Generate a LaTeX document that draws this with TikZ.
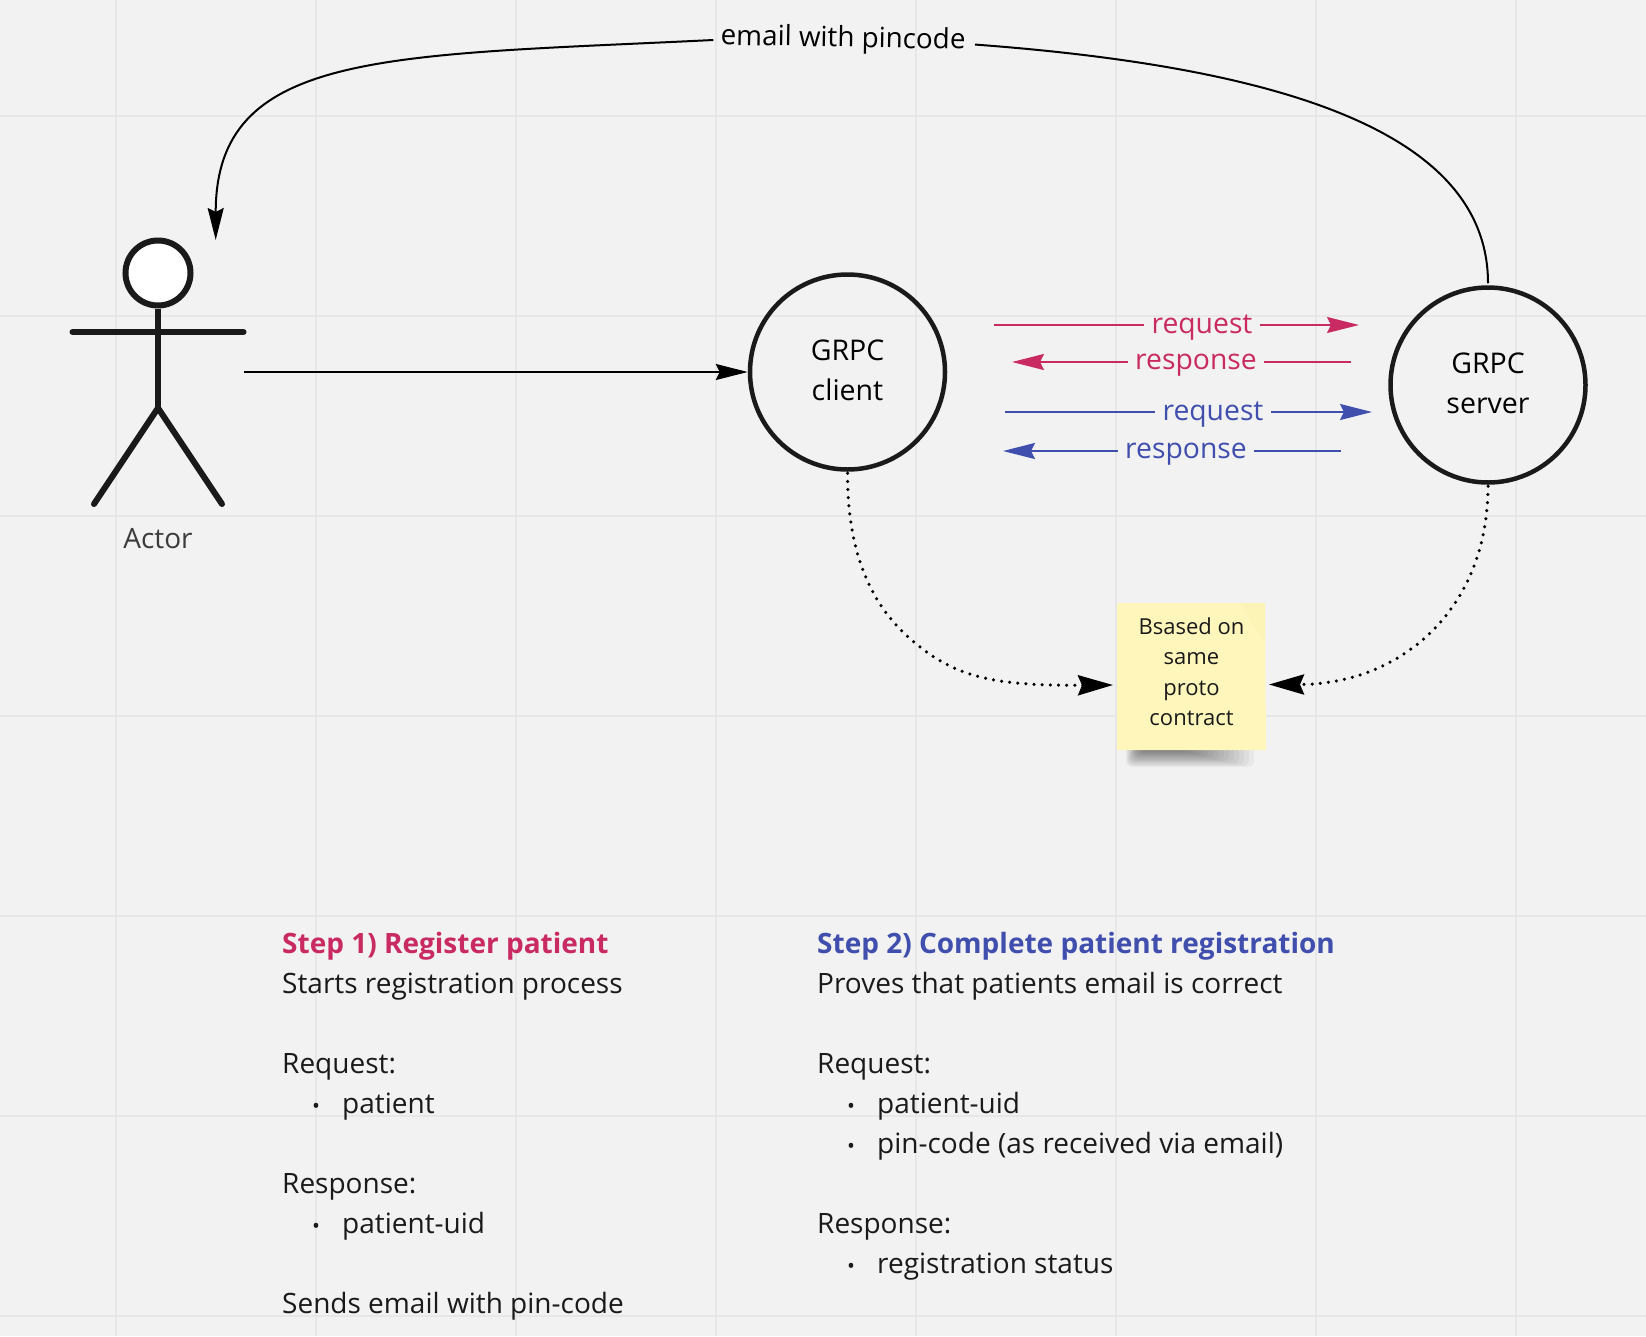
\documentclass[tikz,border=0pt]{standalone}
\usepackage{fontspec}
\setmainfont{Open Sans}
\usetikzlibrary{arrows.meta}
\definecolor{boardbg}{HTML}{F2F2F2}
\definecolor{gridline}{HTML}{E7E7E7}
\definecolor{inkblack}{HTML}{1A1A1A}
\definecolor{stepone}{HTML}{C92A62}
\definecolor{steptwo}{HTML}{404EAE}
\definecolor{notefill}{HTML}{FFF6BB}
\definecolor{notefold}{HTML}{FCF3B6}
\newcommand{\bulletitem}[1]{\hspace*{30pt}\makebox[30pt][l]{\fontsize{21}{21}\selectfont\textbullet}#1}
\newcommand{\liftline}{\rule[-4pt]{0pt}{0pt}}

\begin{document}
\begin{tikzpicture}
[x=1pt, y=-1pt,
  service/.style={circle, draw=inkblack, line width=4.5pt, minimum size=195pt, inner sep=0pt, align=center,
    font=\fontsize{28.5}{40}\selectfont},
  wire/.style={line width=2pt},
  wirelabel/.style={inner sep=0pt, outer sep=7.5pt, anchor=base, font=\fontsize{28.3}{32}\selectfont},
  tipsolid/.style={-{Stealth[length=32pt, width=16pt, inset=4pt]}},
  tipdot/.style={-{Stealth[length=35pt, width=20pt, inset=4pt]}},
  contract/.style={line width=3.5pt, line cap=round, dash pattern=on 0pt off 8.15pt, shorten <=1.5pt},
  limb/.style={draw=inkblack, line width=6pt, line cap=round},
  stepblock/.style={anchor=north west, inner sep=0pt, align=left, text=inkblack, font=\fontsize{28}{40}\selectfont}]
  \useasboundingbox (0,0) rectangle (1646,1336);
  \fill[boardbg] (0,0) rectangle (1646,1336);
  % board grid
  \foreach \gx in {116,316,...,1516}
    \draw[gridline, line width=2pt] (\gx,0) -- (\gx,1336);
  \foreach \gy in {116,316,...,1316}
    \draw[gridline, line width=2pt] (0,\gy) -- (1646,\gy);

  % actor
  \node[circle, draw=inkblack, fill=white, line width=6pt, minimum size=65pt, inner sep=0pt] (head) at (158,273) {};
  \coordinate (hip) at (158,408);
  \draw[limb] (72.5,332) -- (243.5,332);
  \draw[limb, line cap=butt] (head) -- (hip);
  \draw[limb] (94,504) -- (hip) -- (222,504);
  \node[text=inkblack!85, font=\fontsize{28}{32}\selectfont, inner sep=0pt] (actor) at (158,538.5) {Actor};

  % services
  \node[service] (client) at (847.5,372) {GRPC\\client\liftline};
  \node[service] (server) at (1488,385) {GRPC\\server\liftline};
  \coordinate (actorout) at (244,372);
  \draw[wire, tipsolid] (actorout) -- (client.west);

  % email back to the actor
  \node[wirelabel, font=\fontsize{27.8}{32}\selectfont, rotate=-1] (email) at (843,47) {email with pincode};
  \coordinate (actorin) at (215.7,240);
  \draw[wire, shorten <=2pt] (server.north) .. controls (1488,135) and (1290,68) .. ([shift={(2,2.5)}]email.east);
  \draw[wire, tipsolid] ([shift={(0,2.5)}]email.west) .. controls (385,56) and (215.7,50) .. (actorin);

  % step 1 calls
  \begin{scope}[stepone, text=stepone]
    \coordinate (reqonea) at (994,325);
    \coordinate (reqoneb) at (1359,325);
    \node[wirelabel] (reqone) at (1202,333) {request};
    \draw[wire] (reqonea) -- (reqonea -| reqone.west);
    \draw[wire, tipsolid] (reqoneb -| reqone.east) -- (reqoneb);
    \coordinate (resonea) at (1351,362);
    \coordinate (resoneb) at (1012,362);
    \node[wirelabel] (resone) at (1196,369) {response};
    \draw[wire] (resonea) -- (resonea -| resone.east);
    \draw[wire, tipsolid] (resoneb -| resone.west) -- (resoneb);
  \end{scope}

  % step 2 calls
  \begin{scope}[steptwo, text=steptwo]
    \coordinate (reqtwoa) at (1005,412);
    \coordinate (reqtwob) at (1372,412);
    \node[wirelabel] (reqtwo) at (1213,420) {request};
    \draw[wire] (reqtwoa) -- (reqtwoa -| reqtwo.west);
    \draw[wire, tipsolid] (reqtwob -| reqtwo.east) -- (reqtwob);
    \coordinate (restwoa) at (1341,451);
    \coordinate (restwob) at (1003,451);
    \node[wirelabel] (restwo) at (1186,458) {response};
    \draw[wire] (restwoa) -- (restwoa -| restwo.east);
    \draw[wire, tipsolid] (restwob -| restwo.west) -- (restwob);
  \end{scope}

  % sticky note
  \foreach \spread in {0,1,...,14}
    \fill[black, opacity=0.04, rounded corners=6pt] (1126+\spread,742) rectangle (1254-5*\spread,767-1.2*\spread);
  \fill[notefill] (1117,603) -- (1265,603) -- (1266,750) -- (1117,750) -- cycle;
  \fill[notefold] (1265,603) -- (1265,643) -- (1240,603) -- cycle;
  \node[minimum width=149pt, minimum height=147pt, inner sep=0pt, align=center, text=inkblack,
    font=\fontsize{22}{30.5}\selectfont] (note) at (1191.5,671.5) {Bsased on\\same\\proto\\contract};
  \coordinate (noteleft) at (1113,685);
  \coordinate (noteright) at (1269,684.5);
  \draw[contract, tipdot] (client.south) .. controls (847.5,560) and (875,610) .. (915,643)
    .. controls (955,675.8) and (990,686) .. (noteleft);
  \draw[contract, tipdot] (server.south) .. controls (1488,610) and (1400,684.5) .. (noteright);

  % description of the two steps
  \node[stepblock] (stepa) at (282,932) {\textcolor{stepone}{\textbf{Step 1) Register patient}}\\
    Starts registration process\\
    ~\\
    Request:\\
    \bulletitem{patient}\\
    ~\\
    Response:\\
    \bulletitem{patient-uid}\\
    ~\\
    Sends email with pin-code};
  \node[stepblock] (stepb) at (817,932) {\textcolor{steptwo}{\textbf{Step 2) Complete patient registration}}\\
    Proves that patients email is correct\\
    ~\\
    Request:\\
    \bulletitem{patient-uid}\\
    \bulletitem{pin-code (as received via email)}\\
    ~\\
    Response:\\
    \bulletitem{registration status}};
\end{tikzpicture}
\end{document}
